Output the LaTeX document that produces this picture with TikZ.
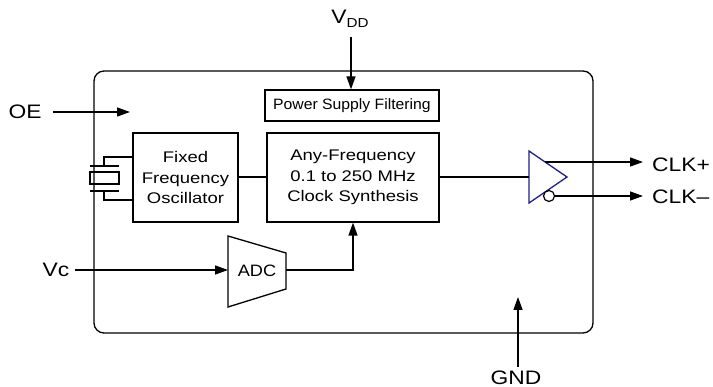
\documentclass[tikz,border=0pt]{standalone}
\usepackage{fontspec}
\setmainfont{Liberation Sans}
\newfontfamily\lblfont{Liberation Sans}[FakeStretch=1.17]
\newfontfamily\boxfont{Liberation Sans}[FakeStretch=1.2]
\newfontfamily\psfont{Liberation Sans}[FakeStretch=1.05]
\newfontfamily\adcfont{Liberation Sans}[FakeStretch=1.1]
\usetikzlibrary{arrows.meta}
\definecolor{bufblue}{RGB}{30,30,140}
\tikzset{
  wire/.style={line width=1.3pt, line join=miter},
  arr/.style={wire, -{Triangle[length=13pt,width=9pt]}},
  blk/.style={draw, line width=1.3pt, inner sep=0pt, align=center,
    font=\boxfont\fontsize{15.4}{20.5}\selectfont},
  lbl/.style={inner sep=0pt, font=\lblfont\fontsize{19.5}{22}\selectfont},
}
\begin{document}
\begin{tikzpicture}[x=1pt,y=-1pt]
\useasboundingbox (0,0) rectangle (713,387);
% outer package outline
\draw[wire, rounded corners=10pt] (94,71) rectangle (593,333);
% blocks
\node[blk, minimum width=174pt, minimum height=31pt,
      font=\psfont\fontsize{15}{18}\selectfont] (ps) at (352,105.5) {Power Supply Filtering};
\node[blk, minimum width=105pt, minimum height=89pt] (osc) at (185.5,177.5) {Fixed\\Frequency\\Oscillator};
\node[blk, minimum width=172pt, minimum height=89pt] (syn) at (353,177.5) {Any-Frequency\\0.1 to 250 MHz\\Clock Synthesis};
% ADC trapezoid
\draw[wire] (228,236) -- (286,253) -- (286,289) -- (228,307) -- cycle;
\node[inner sep=0pt, font=\adcfont\fontsize{16.5}{18}\selectfont] (adc) at (257,271) {ADC};
\coordinate (adcin) at (228,270);
\coordinate (adcout) at (286,270);
% output buffer
\draw[line width=1.3pt, draw=bufblue, line join=miter] (529,151) -- (567,177) -- (529,203) -- cycle;
\coordinate (bufin) at (529,177);
\coordinate (bufp) at (545,162);
\coordinate (bufn) at (554.5,196);
% labels
\node[lbl] (vdd) at (350,19) {V\raisebox{-4pt}{\fontsize{13}{13}\selectfont DD}};
\node[lbl] (oe) at (25,112) {OE};
\node[lbl] (vc) at (56,270) {Vc};
\node[lbl, anchor=west] (clkp) at (652,165) {CLK+};
\node[lbl, anchor=west] (clkn) at (652,196.5) {CLK–};
\node[lbl] (gnd) at (516,377.5) {GND};
% connectors
\coordinate (vddtop) at (351,37);
\draw[arr] (vddtop) -- (vddtop |- ps.north);
\coordinate (oestart) at (53,112);
\coordinate (oeend) at (130,112);
\draw[arr] (oestart) -- (oeend);
\draw[wire] (osc.east |- 0,177) -- (syn.west |- 0,177);
\draw[wire] (syn.east |- 0,177) -- (bufin);
\coordinate (clkpend) at (643,162);
\coordinate (clknend) at (643,196);
\draw[arr] (bufp) -- (clkpend);
\draw[arr] (bufn) -- (clknend);
\draw[line width=1.2pt, draw=black, fill=white] (549,196) circle (5.5pt);
\coordinate (vcstart) at (75,270);
\draw[arr] (vcstart) -- (adcin);
\draw[arr] (adcout) -- (353,270) -- (syn.south);
\coordinate (gndstart) at (518,367);
\coordinate (gndend) at (518,297);
\draw[arr] (gndstart) -- (gndend);
% crystal
\coordinate (xtop) at (133,157);
\coordinate (xbot) at (133,200);
\draw[wire] (xtop) -- (104,157) -- (104,166);
\draw[wire] (90,166) -- (119,166);
\draw[wire] (90,172) rectangle (119,184);
\draw[wire] (90,191) -- (119,191);
\draw[wire] (104,191) -- (104,200) -- (xbot);
\end{tikzpicture}
\end{document}
